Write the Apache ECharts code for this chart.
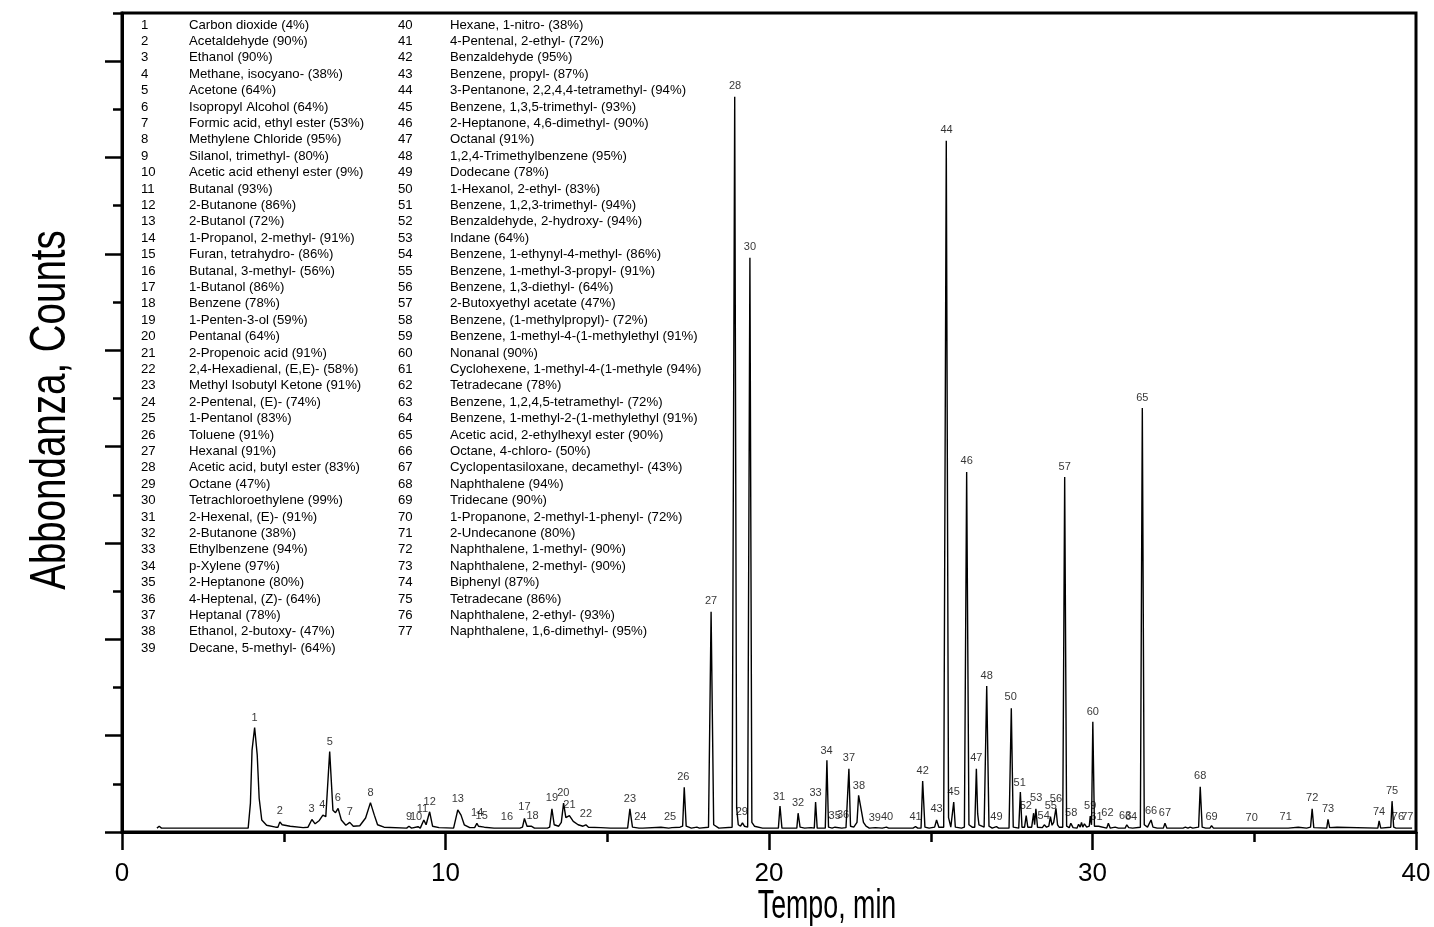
<!DOCTYPE html>
<html>
<head>
<meta charset="utf-8">
<title>Cromatogramma</title>
<script src="https://cdn.jsdelivr.net/npm/echarts@6.0.0/dist/echarts.min.js"></script>
<style>
    html, body { margin: 0; padding: 0; background: #fff; }
    #chart { width: 1434px; height: 927px; }
</style>
</head>
<body>
<div id="chart"></div>
<script>
// tracciato: [tempo (min), segnale] - segnale in unità di tacca dell'asse y
const trace = [
    [1.08,0.08],[1.15,0.12],[1.22,0.08],[3.90,0.08],[3.97,0.6],[4.02,1.7],[4.10,2.17],[4.18,1.6],[4.24,0.7],[4.32,0.25],[4.47,0.14],[4.75,0.10],
    [4.82,0.10],[4.88,0.21],[4.95,0.15],[5.20,0.12],[5.60,0.09],
    [5.75,0.10],[5.87,0.26],[5.97,0.17],[6.10,0.24],[6.21,0.35],[6.30,0.32],[6.42,1.67],[6.52,0.45],[6.60,0.40],[6.68,0.49],[6.78,0.25],[6.92,0.14],
    [7.04,0.20],[7.15,0.12],[7.35,0.13],[7.53,0.29],[7.58,0.26],[7.68,0.61],[7.80,0.35],[7.90,0.15],[8.10,0.10],[8.80,0.08],
    [8.87,0.12],[8.95,0.08],[9.15,0.11],[9.22,0.08],[9.33,0.25],[9.40,0.15],[9.51,0.42],[9.60,0.12],[9.80,0.09],[10.25,0.08],
    [10.30,0.10],[10.38,0.46],[10.48,0.35],[10.58,0.15],[10.75,0.09],[10.90,0.09],[10.97,0.18],[11.02,0.12],[11.07,0.13],[11.20,0.10],[11.50,0.08],
    [11.85,0.08],[11.90,0.10],[11.95,0.08],[12.30,0.08],
    [12.38,0.10],[12.44,0.28],[12.52,0.12],[12.65,0.12],[12.75,0.08],[13.15,0.08],[13.22,0.10],[13.29,0.48],[13.36,0.15],[13.50,0.12],
    [13.58,0.20],[13.65,0.60],[13.72,0.30],[13.83,0.34],[13.95,0.22],[14.10,0.15],[14.25,0.12],[14.34,0.15],[14.42,0.10],[14.80,0.09],[15.10,0.08],
    [15.63,0.08],[15.70,0.48],[15.78,0.10],[15.98,0.08],[16.04,0.11],[16.10,0.08],[16.66,0.10],[16.72,0.08],[16.90,0.08],[16.94,0.11],[17.00,0.09],
    [17.25,0.10],[17.33,0.12],[17.38,0.93],[17.44,0.12],[17.60,0.08],[17.77,0.10],[17.85,0.08],
    [18.13,0.10],[18.21,4.57],[18.29,0.15],[18.45,0.08],[18.86,0.10],[18.94,15.26],[19.00,0.5],[19.05,0.15],[19.12,0.12],[19.18,0.19],[19.24,0.12],
    [19.30,0.10],[19.34,0.10],[19.41,11.92],[19.47,0.20],[19.55,0.12],[19.80,0.08],
    [20.29,0.08],[20.34,0.54],[20.40,0.08],[20.86,0.08],[20.90,0.39],[20.96,0.10],[21.10,0.08],[21.30,0.09],[21.40,0.08],[21.44,0.62],[21.49,0.08],
    [21.74,0.08],[21.79,1.49],[21.84,0.10],[21.95,0.08],[22.04,0.10],[22.10,0.08],[22.25,0.08],[22.31,0.12],[22.38,0.09],[22.43,0.10],[22.47,1.31],
    [22.52,0.12],[22.62,0.10],[22.72,0.20],[22.77,0.76],[22.84,0.50],[22.92,0.20],[23.00,0.12],[23.10,0.08],[23.29,0.09],[23.50,0.08],[23.63,0.10],
    [23.70,0.08],[24.45,0.08],[24.53,0.11],[24.60,0.08],
    [24.70,0.08],[24.75,1.06],[24.82,0.10],[24.95,0.08],[25.12,0.10],[25.18,0.25],[25.25,0.10],[25.40,0.10],[25.48,14.35],[25.55,0.30],[25.62,0.10],
    [25.67,0.10],[25.71,0.62],[25.76,0.10],[25.95,0.08],[26.04,0.10],[26.11,7.47],[26.18,0.15],[26.28,0.10],[26.36,0.10],[26.41,1.31],[26.45,0.38],
    [26.49,0.15],[26.65,0.10],[26.73,3.03],[26.80,0.12],[26.90,0.08],[27.03,0.11],[27.10,0.08],
    [27.42,0.08],[27.49,2.57],[27.55,0.10],[27.72,0.08],[27.77,0.83],[27.82,0.10],[27.90,0.10],[27.95,0.34],[28.00,0.10],[28.12,0.10],[28.18,0.39],
    [28.21,0.15],[28.25,0.48],[28.30,0.10],[28.45,0.09],[28.51,0.15],[28.58,0.10],[28.65,0.12],[28.70,0.32],[28.75,0.14],[28.80,0.20],[28.87,0.49],
    [28.92,0.15],[28.97,0.10],[29.08,0.10],[29.14,7.37],[29.20,0.12],[29.28,0.09],[29.33,0.18],[29.40,0.09],[29.52,0.08],[29.57,0.16],[29.62,0.10],
    [29.66,0.20],[29.70,0.10],[29.75,0.17],[29.82,0.10],[29.90,0.12],[29.93,0.33],[29.97,0.15],[30.01,2.29],[30.06,0.12],[30.19,0.12],[30.25,0.08],
    [30.44,0.08],[30.49,0.18],[30.55,0.08],[30.70,0.10],[30.80,0.08],[31.01,0.08],[31.06,0.15],[31.12,0.09],[31.18,0.13],[31.24,0.08],
    [31.48,0.10],[31.54,8.80],[31.60,0.15],[31.70,0.10],[31.76,0.10],[31.81,0.25],[31.87,0.10],[32.00,0.08],[32.19,0.08],[32.24,0.18],[32.30,0.08],
    [32.80,0.08],[32.87,0.10],[32.95,0.08],[33.02,0.10],[33.10,0.08],[33.28,0.10],[33.33,0.94],[33.39,0.10],[33.50,0.08],[33.63,0.08],[33.68,0.13],
    [33.74,0.08],[34.90,0.08],[34.94,0.10],[34.99,0.08],[35.33,0.08],[35.37,0.09],[35.42,0.08],[35.95,0.08],[36.00,0.12],[36.05,0.08],[36.36,0.10],
    [36.42,0.08],[36.62,0.08],[36.67,0.12],[36.74,0.10],[36.79,0.48],[36.84,0.09],[37.24,0.08],[37.28,0.26],[37.33,0.09],[37.56,0.10],[37.62,0.08],
    [38.82,0.08],[38.86,0.23],[38.91,0.08],[39.22,0.10],[39.26,0.64],[39.31,0.10],[39.38,0.08],[39.42,0.11],[39.48,0.08],[39.66,0.08],[39.70,0.11],
    [39.76,0.08],[39.88,0.08]
];

// numeri dei picchi: [testo, tempo, altezza del centro dell'etichetta]
const peakLabels = [
    ['1',4.10,2.37],['2',4.88,0.44],['3',5.86,0.48],['4',6.19,0.56],['5',6.42,1.87],['6',6.67,0.71],['7',7.04,0.42],['8',7.68,0.82],
    ['9',8.87,0.32],['10',9.09,0.32],['11',9.29,0.48],['12',9.51,0.63],['13',10.38,0.68],['14',10.98,0.39],['15',11.12,0.33],['16',11.90,0.31],
    ['17',12.44,0.51],['18',12.69,0.33],['19',13.29,0.70],['20',13.64,0.80],['21',13.83,0.56],['22',14.34,0.37],['23',15.70,0.68],['24',16.02,0.32],
    ['25',16.94,0.32],['26',17.35,1.14],['27',18.21,4.79],['28',18.95,15.48],['29',19.16,0.41],['30',19.41,12.14],['31',20.31,0.73],['32',20.90,0.60],
    ['33',21.44,0.82],['34',21.78,1.69],['35',22.03,0.33],['36',22.29,0.35],['37',22.47,1.53],['38',22.78,0.96],['39',23.27,0.30],['40',23.65,0.32],
    ['41',24.53,0.32],['42',24.75,1.27],['43',25.18,0.47],['44',25.49,14.57],['45',25.71,0.84],['46',26.11,7.70],['47',26.41,1.53],['48',26.73,3.24],
    ['49',27.03,0.32],['50',27.47,2.80],['51',27.75,1.02],['52',27.94,0.53],['53',28.26,0.70],['54',28.49,0.34],['55',28.71,0.53],['56',28.87,0.68],
    ['57',29.14,7.58],['58',29.34,0.39],['59',29.93,0.53],['60',30.01,2.50],['61',30.12,0.32],['62',30.46,0.39],['63',31.01,0.33],['64',31.19,0.32],
    ['65',31.54,9.01],['66',31.81,0.44],['67',32.24,0.39],['68',33.33,1.16],['69',33.68,0.32],['70',34.92,0.30],['71',35.97,0.32],['72',36.79,0.70],
    ['73',37.28,0.47],['74',38.86,0.42],['75',39.26,0.85],['76',39.44,0.31],['77',39.73,0.32]
];

// composti identificati (col. 1: 1-39, col. 2: 40-77)
const compoundNames = [
    'Carbon dioxide (4%)', 'Acetaldehyde (90%)', 'Ethanol (90%)', 'Methane, isocyano- (38%)', 'Acetone (64%)',
    'Isopropyl Alcohol (64%)', 'Formic acid, ethyl ester (53%)', 'Methylene Chloride (95%)', 'Silanol, trimethyl- (80%)',
    'Acetic acid ethenyl ester (9%)', 'Butanal (93%)', '2-Butanone (86%)', '2-Butanol (72%)', '1-Propanol, 2-methyl- (91%)',
    'Furan, tetrahydro- (86%)', 'Butanal, 3-methyl- (56%)', '1-Butanol (86%)', 'Benzene (78%)', '1-Penten-3-ol (59%)',
    'Pentanal (64%)', '2-Propenoic acid (91%)', '2,4-Hexadienal, (E,E)- (58%)', 'Methyl Isobutyl Ketone (91%)',
    '2-Pentenal, (E)- (74%)', '1-Pentanol (83%)', 'Toluene (91%)', 'Hexanal (91%)', 'Acetic acid, butyl ester (83%)',
    'Octane (47%)', 'Tetrachloroethylene (99%)', '2-Hexenal, (E)- (91%)', '2-Butanone (38%)', 'Ethylbenzene (94%)',
    'p-Xylene (97%)', '2-Heptanone (80%)', '4-Heptenal, (Z)- (64%)', 'Heptanal (78%)', 'Ethanol, 2-butoxy- (47%)',
    'Decane, 5-methyl- (64%)',
    'Hexane, 1-nitro- (38%)', '4-Pentenal, 2-ethyl- (72%)', 'Benzaldehyde (95%)', 'Benzene, propyl- (87%)',
    '3-Pentanone, 2,2,4,4-tetramethyl- (94%)', 'Benzene, 1,3,5-trimethyl- (93%)', '2-Heptanone, 4,6-dimethyl- (90%)',
    'Octanal (91%)', '1,2,4-Trimethylbenzene (95%)', 'Dodecane (78%)', '1-Hexanol, 2-ethyl- (83%)',
    'Benzene, 1,2,3-trimethyl- (94%)', 'Benzaldehyde, 2-hydroxy- (94%)', 'Indane (64%)', 'Benzene, 1-ethynyl-4-methyl- (86%)',
    'Benzene, 1-methyl-3-propyl- (91%)', 'Benzene, 1,3-diethyl- (64%)', '2-Butoxyethyl acetate (47%)',
    'Benzene, (1-methylpropyl)- (72%)', 'Benzene, 1-methyl-4-(1-methylethyl (91%)', 'Nonanal (90%)',
    'Cyclohexene, 1-methyl-4-(1-methyle (94%)', 'Tetradecane (78%)', 'Benzene, 1,2,4,5-tetramethyl- (72%)',
    'Benzene, 1-methyl-2-(1-methylethyl (91%)', 'Acetic acid, 2-ethylhexyl ester (90%)', 'Octane, 4-chloro- (50%)',
    'Cyclopentasiloxane, decamethyl- (43%)', 'Naphthalene (94%)', 'Tridecane (90%)', '1-Propanone, 2-methyl-1-phenyl- (72%)',
    '2-Undecanone (80%)', 'Naphthalene, 1-methyl- (90%)', 'Naphthalene, 2-methyl- (90%)', 'Biphenyl (87%)',
    'Tetradecane (86%)', 'Naphthalene, 2-ethyl- (93%)', 'Naphthalene, 1,6-dimethyl- (95%)'
];
const firstColumnRows = 39;

// assi
const timeMin = 0, timeMax = 40, timeStep = 10;
const signalMax = 17;   // tacche sull'asse y, senza etichette
const xTitle = 'Tempo, min';
const yTitle = 'Abbondanza, Counts';

const FONT = '"Liberation Sans", Arial, sans-serif';

moduleInit();

function moduleInit() {
    let chart = echarts.init(document.getElementById('chart'), null, {renderer: 'canvas'});

    let labelData = peakLabels.map(function (p) {
        return {name: p[0], value: [p[1], p[2]]};
    });

    let option = {
        animation: false,
        backgroundColor: '#fff',
        grid: [
            {left: 122, right: 18, top: 13, bottom: 95, outerBoundsMode: 'none',
                show: true, borderColor: '#000', borderWidth: 3, backgroundColor: 'transparent'},
            //griglia solo per le tacche lunghe (stessa scala, una tacca in meno in alto)
            {left: 122, right: 18, top: 61, bottom: 95, outerBoundsMode: 'none'}
        ],
        xAxis: [{
            gridIndex: 0,
            type: 'value',
            min: timeMin,
            max: timeMax,
            interval: timeStep,
            axisLine: {show: true, onZero: false, lineStyle: {color: '#000', width: 3}},
            axisTick: {show: true, inside: false, length: 18, lineStyle: {color: '#000', width: 2.5}},
            minorTick: {show: true, splitNumber: 2, length: 10, lineStyle: {color: '#000', width: 2.5}},
            axisLabel: {fontSize: 26, fontFamily: FONT, color: '#000', margin: 29},
            splitLine: {show: false}
        }, {
            gridIndex: 1,
            type: 'value',
            min: timeMin,
            max: timeMax,
            show: false
        }],
        yAxis: [{
            gridIndex: 0,
            type: 'value',
            min: 0,
            max: signalMax,
            interval: 1,
            axisLine: {show: true, onZero: false, lineStyle: {color: '#000', width: 3}},
            axisTick: {show: true, inside: false, length: 9, lineStyle: {color: '#000', width: 2.5}},
            axisLabel: {show: false},
            splitLine: {show: false}
        }, {
            gridIndex: 1,
            type: 'value',
            min: 0,
            max: signalMax - 1,
            interval: 2,
            axisLine: {show: false},
            axisTick: {show: true, inside: false, length: 17, lineStyle: {color: '#000', width: 2.5}},
            axisLabel: {show: false},
            splitLine: {show: false}
        }],
        graphic: buildAxisTitles().concat(buildCompoundList()),
        series: [{
            name: 'TIC',
            type: 'line',
            xAxisIndex: 0,
            yAxisIndex: 0,
            data: trace,
            showSymbol: false,
            smooth: false,
            lineStyle: {color: '#000', width: 1.4},
            z: 3
        }, {
            name: 'picchi',
            type: 'scatter',
            xAxisIndex: 0,
            yAxisIndex: 0,
            data: labelData,
            symbolSize: 1,
            itemStyle: {color: 'rgba(0,0,0,0)'},
            label: {
                show: true,
                position: 'inside',
                formatter: function (p) { return p.name; },
                fontSize: 11,
                fontFamily: FONT,
                color: '#000'
            },
            z: 4
        }]
    };

    chart.setOption(option);
}

// titoli degli assi: carattere stretto (compresso in larghezza)
function buildAxisTitles() {
    return [{
        type: 'text',
        x: 827,
        y: 907,
        scaleX: 0.67,
        silent: true,
        style: {text: xTitle, fontSize: 40, fontFamily: FONT, fill: '#000', align: 'center', verticalAlign: 'middle'}
    }, {
        type: 'text',
        x: 51,
        y: 410,
        rotation: Math.PI / 2,
        scaleX: 0.77,
        silent: true,
        style: {text: yTitle, fontSize: 50, fontFamily: FONT, fill: '#000', align: 'center', verticalAlign: 'middle'}
    }];
}

// elenco dei composti in due colonne (numero + nome)
function buildCompoundList() {
    const lineH = 16.4;
    const topY = 25 - lineH / 2;
    let cols = [
        {numX: 141, nameX: 189, from: 0, to: firstColumnRows},
        {numX: 398, nameX: 450, from: firstColumnRows, to: compoundNames.length}
    ];
    let elements = [];
    cols.forEach(function (c) {
        let nums = [];
        let names = [];
        for (let i = c.from; i < c.to; i++) {
            nums.push(String(i + 1));
            names.push(compoundNames[i]);
        }
        [[c.numX, nums], [c.nameX, names]].forEach(function (t) {
            elements.push({
                type: 'text',
                x: t[0],
                y: topY,
                silent: true,
                style: {
                    text: t[1].join('\n'),
                    fontSize: 13.2,
                    fontFamily: FONT,
                    lineHeight: lineH,
                    fill: '#000',
                    verticalAlign: 'top'
                }
            });
        });
    });
    return elements;
}
</script>
</body>
</html>
